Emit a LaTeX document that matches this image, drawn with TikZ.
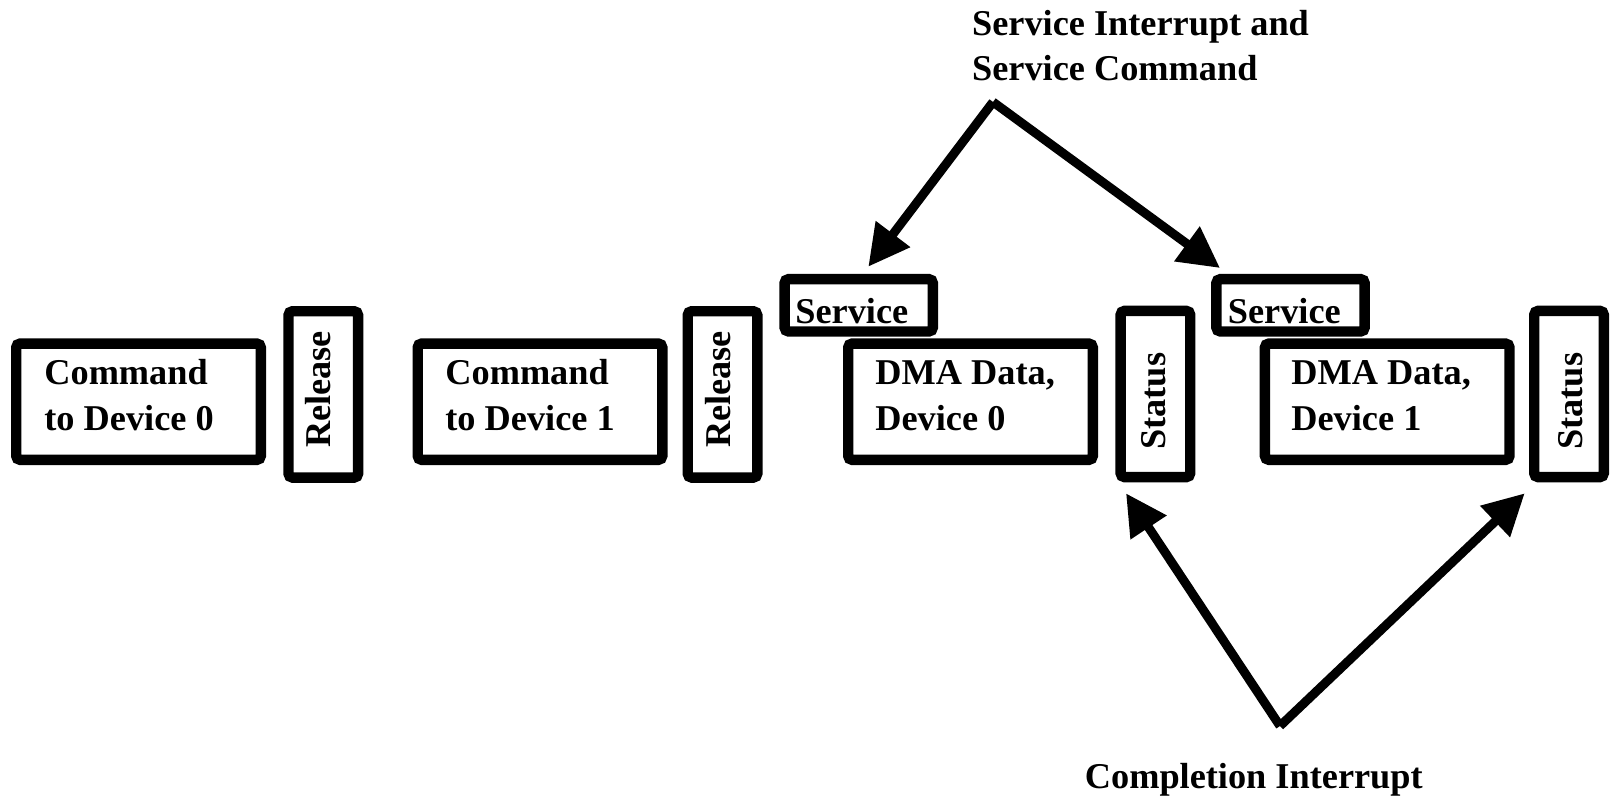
\documentclass[tikz,border=0pt]{standalone}
\usepackage{fontspec}
\setmainfont{Liberation Serif}
\usetikzlibrary{arrows.meta}
\tikzset{
  blk/.style={draw=black, line width=5.2pt, rounded corners=2pt, fill=white, inner sep=0pt},
  wide/.style={blk, minimum width=122.3pt, minimum height=58.15pt},
  tall/.style={blk, minimum width=34.8pt, minimum height=83.15pt},
  tab/.style={blk, minimum width=74.15pt, minimum height=26.15pt},
  txt/.style={inner sep=0pt, anchor=base west, font=\fontsize{18.15pt}{22.8pt}\selectfont\bfseries},
  vtxt/.style={txt, rotate=90},
  ptr/.style={line width=4.5pt, -{Triangle[length=20.5pt,width=20.5pt]}},
}
\begin{document}
\begin{tikzpicture}[x=0.5pt,y=-0.5pt]
\useasboundingbox (0,0) rectangle (1610,797);

% command phase
\node[wide] (cmd0) at (138.5,401.7) {};
\node[txt] (cmd0a) at (44,384.3) {Command};
\node[txt] (cmd0b) at (44,430) {to Device 0};
\node[tall] (rel0) at (323.3,394.4) {};
\node[vtxt] (rel0t) at (330,448.3) {Release};

\node[wide] (cmd1) at (540,401.7) {};
\node[txt] (cmd1a) at (445,384.3) {Command};
\node[txt] (cmd1b) at (445,430) {to Device 1};
\node[tall] (rel1) at (722.5,394.4) {};
\node[vtxt] (rel1t) at (730.5,448.3) {Release};

% data phase, device 0
\node[tab] (svc0) at (858.7,305.3) {};
\node[txt] (svc0t) at (795,323.3) {Service};
\node[wide] (dma0) at (970.5,401.7) {};
\node[txt] (dma0a) at (875,384.3) {DMA Data,};
\node[txt] (dma0b) at (875,430) {Device 0};
\node[tall] (sts0) at (1155.4,394) {};
\node[vtxt] (sts0t) at (1165.5,450) {Status};

% data phase, device 1
\node[tab] (svc1) at (1290.5,305.3) {};
\node[txt] (svc1t) at (1227.5,323.3) {Service};
\node[wide] (dma1) at (1387.2,401.7) {};
\node[txt] (dma1a) at (1291,384.3) {DMA Data,};
\node[txt] (dma1b) at (1291,430) {Device 1};
\node[tall] (sts1) at (1569,394) {};
\node[vtxt] (sts1t) at (1582,450) {Status};

% interrupt labels
\node[txt] (svcint) at (971.7,35.5) {Service Interrupt and};
\node[txt] (svccmd) at (971.7,81) {Service Command};
\node[txt] (cplint) at (1084.5,788) {Completion Interrupt};

% arrow end points
\coordinate (sapex) at (993,102);
\coordinate (s0tip) at (868.3,266.7);
\coordinate (s1tip) at (1220,268);
\coordinate (capex) at (1280,726);
\coordinate (c0tip) at (1126,493.3);
\coordinate (c1tip) at (1524.7,493.3);

\draw[ptr] (sapex) -- (s0tip);
\draw[ptr] (sapex) -- (s1tip);
\draw[ptr] (capex) -- (c0tip);
\draw[ptr] (capex) -- (c1tip);
\end{tikzpicture}
\end{document}
